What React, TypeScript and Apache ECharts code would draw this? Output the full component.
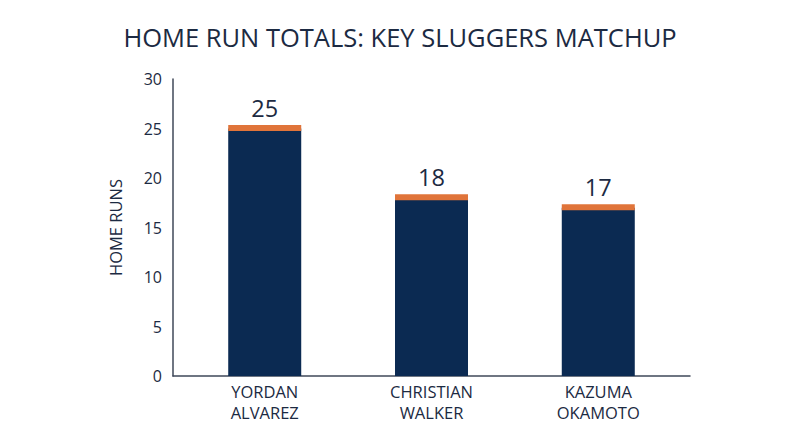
import React, { useEffect, useRef } from 'react';
import * as echarts from 'echarts';

const players = ['YORDAN\nALVAREZ', 'CHRISTIAN\nWALKER', 'KAZUMA\nOKAMOTO'];
const homeRuns = [25, 18, 17];
const yTicks = { min: 0, max: 30, interval: 5 };

const NAVY = '#0b2a52';
const ORANGE = '#e0743a';
const INK = '#1c2a42';
const FONT = '"Open Sans", sans-serif';

const App: React.FC = () => {
	const chartRef = useRef<HTMLDivElement>(null);

	useEffect(() => {
		if (!chartRef.current) return;
		const chart = echarts.init(chartRef.current, undefined, { renderer: 'svg' });

		const points = homeRuns.map((v, i) => [i, v]);

		const option: echarts.EChartsOption = {
			animation: false,
			backgroundColor: '#ffffff',
			title: {
				text: 'HOME RUN TOTALS: KEY SLUGGERS MATCHUP',
				left: 'center',
				top: 19,
				textStyle: { color: INK, fontSize: 25.5, fontWeight: 'normal', fontFamily: FONT }
			},
			grid: { left: 173, right: 110, top: 79, bottom: 71 },
			xAxis: {
				type: 'value',
				min: -0.55,
				max: 2.55,
				splitLine: { show: false },
				axisLine: { show: true, lineStyle: { color: '#3f4859', width: 1.5 } },
				axisTick: { show: false },
				axisLabel: {
					customValues: [0, 1, 2],
					formatter: (v: number) => players[Math.round(v)] ?? '',
					color: INK,
					fontSize: 16.5,
					lineHeight: 21,
					fontFamily: FONT,
					margin: 5
				}
			},
			yAxis: {
				type: 'value',
				...yTicks,
				name: 'HOME RUNS',
				nameLocation: 'middle',
				nameRotate: 90,
				nameGap: 49,
				nameTextStyle: { color: INK, fontSize: 16.5, fontFamily: FONT },
				splitLine: { show: false },
				axisLine: { show: true, onZero: false, lineStyle: { color: '#3f4859', width: 1.5 } },
				axisTick: { show: false },
				axisLabel: { color: INK, fontSize: 16, fontFamily: FONT, margin: 11 }
			},
			series: [
				{
					type: 'bar',
					data: points,
					barWidth: 73,
					itemStyle: { color: NAVY },
					label: {
						show: true,
						position: 'top',
						distance: 9,
						color: INK,
						fontSize: 23.5,
						fontFamily: FONT
					}
				},
				{
					type: 'custom',
					data: points,
					z: 3,
					renderItem: (params: any, api: any) => {
						const p = api.coord([api.value(0), api.value(1)]);
						return {
							type: 'rect',
							shape: { x: p[0] - 36.5, y: p[1] - 3.5, width: 73, height: 6 },
							style: { fill: ORANGE }
						};
					}
				}
			]
		};

		chart.setOption(option);
		return () => chart.dispose();
	}, []);

	return <div ref={chartRef} style={{ position: 'absolute', left: 0, top: 0, width: 800, height: 447 }} />;
};

export default App;
